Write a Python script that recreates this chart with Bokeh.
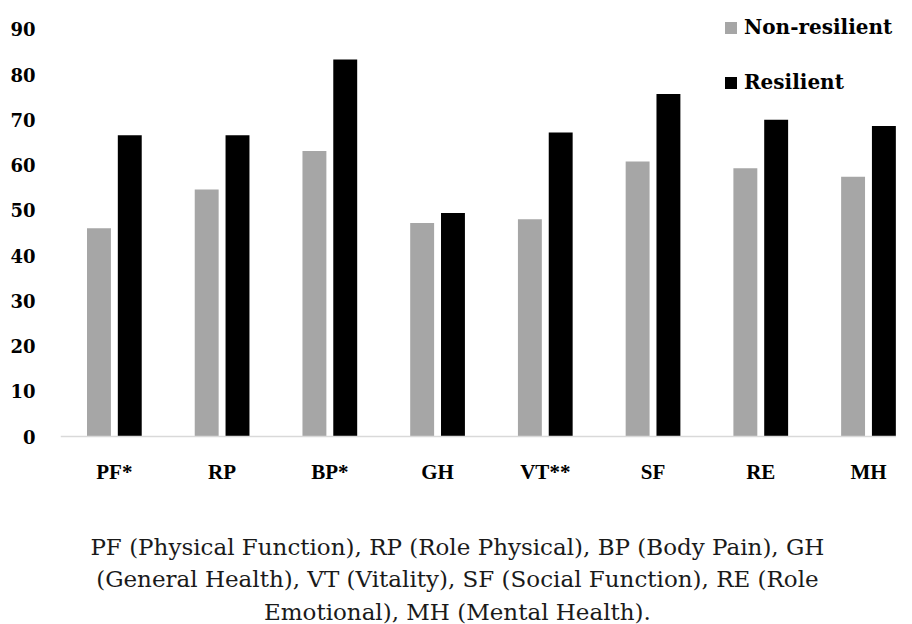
import numpy as np
from bokeh.plotting import figure
from bokeh.models import Range1d, FixedTicker, Label, LabelSet, ColumnDataSource, Span
from bokeh.embed import file_html
from bokeh.resources import INLINE

categories = ["PF*", "RP", "BP*", "GH", "VT**", "SF", "RE", "MH"]
non_resilient = [46.0, 54.6, 63.1, 47.2, 48.0, 60.8, 59.3, 57.4]
resilient = [66.6, 66.6, 83.3, 49.4, 67.2, 75.7, 70.0, 68.6]
y_ticks = [0, 10, 20, 30, 40, 50, 60, 70, 80, 90]
caption_lines = [
    "PF (Physical Function), RP (Role Physical), BP (Body Pain), GH",
    "(General Health), VT (Vitality), SF (Social Function), RE (Role",
    "Emotional), MH (Mental Health).",
]

FONT = "DejaVu Serif"
centers = np.arange(len(categories)) + 0.5
offset = 0.143
bw = 0.222

W, H = 896, 624
PX_PER_UNIT = 4.525
ZERO_PX = 436
y_top = ZERO_PX / PX_PER_UNIT
y_bot = -(H - ZERO_PX) / PX_PER_UNIT

p = figure(width=W, height=H, output_backend="svg", toolbar_location=None,
           x_range=Range1d(0, 7.76), y_range=Range1d(y_bot, y_top),
           x_axis_location=None,
           min_border_left=60, min_border_right=0, min_border_top=0,
           min_border_bottom=0)
p.outline_line_color = None
p.grid.visible = False

src_n = ColumnDataSource(dict(x=centers - offset, top=non_resilient))
src_r = ColumnDataSource(dict(x=centers + offset, top=resilient))
p.vbar(x="x", top="top", bottom=0, width=bw, source=src_n, color="#a6a6a6",
       line_color=None, legend_label="Non-resilient")
p.vbar(x="x", top="top", bottom=0, width=bw, source=src_r, color="#000000",
       line_color=None, legend_label="Resilient")

# baseline (category axis line)
p.add_layout(Span(location=0, dimension="width", line_color="#d9d9d9", line_width=1.5))

# category labels
cat_src = ColumnDataSource(dict(x=centers, y=[0] * len(categories), text=categories))
p.add_layout(LabelSet(x="x", y="y", text="text", source=cat_src, y_offset=-35.5,
                      text_align="center", text_baseline="middle",
                      text_font=FONT, text_font_style="bold", text_font_size="21px",
                      text_color="#000000"))

# y axis
p.yaxis.ticker = FixedTicker(ticks=y_ticks)
p.yaxis.axis_line_color = None
p.yaxis.major_tick_line_color = None
p.yaxis.minor_tick_line_color = None
p.yaxis.major_tick_out = 0
p.yaxis.major_label_standoff = 25
p.yaxis.major_label_text_font = FONT
p.yaxis.major_label_text_font_style = "bold"
p.yaxis.major_label_text_font_size = "18px"
p.yaxis.major_label_text_color = "#000000"

# legend
lg = p.legend[0]
lg.location = (663, H - ZERO_PX + 342)
lg.padding = 0
lg.margin = 0
lg.border_line_color = None
lg.background_fill_alpha = 0
lg.glyph_width = 15
lg.glyph_height = 15
lg.label_height = 15
lg.spacing = 31
lg.label_standoff = 6
lg.label_text_font = FONT
lg.label_text_font_style = "bold"
lg.label_text_font_size = "20px"
lg.label_text_color = "#000000"

# caption (below the chart, centred on the page)
x_mid = (459 - 60) / 108.3
for i, line in enumerate(caption_lines):
    y_px = 546 + 32.5 * i
    p.add_layout(Label(x=x_mid, y=(ZERO_PX - y_px) / PX_PER_UNIT,
                       text=line, text_align="center", text_baseline="alphabetic",
                       text_font=FONT, text_font_size="23px", text_color="#1a1a1a"))

open("out.html", "w").write(file_html(p, INLINE))
